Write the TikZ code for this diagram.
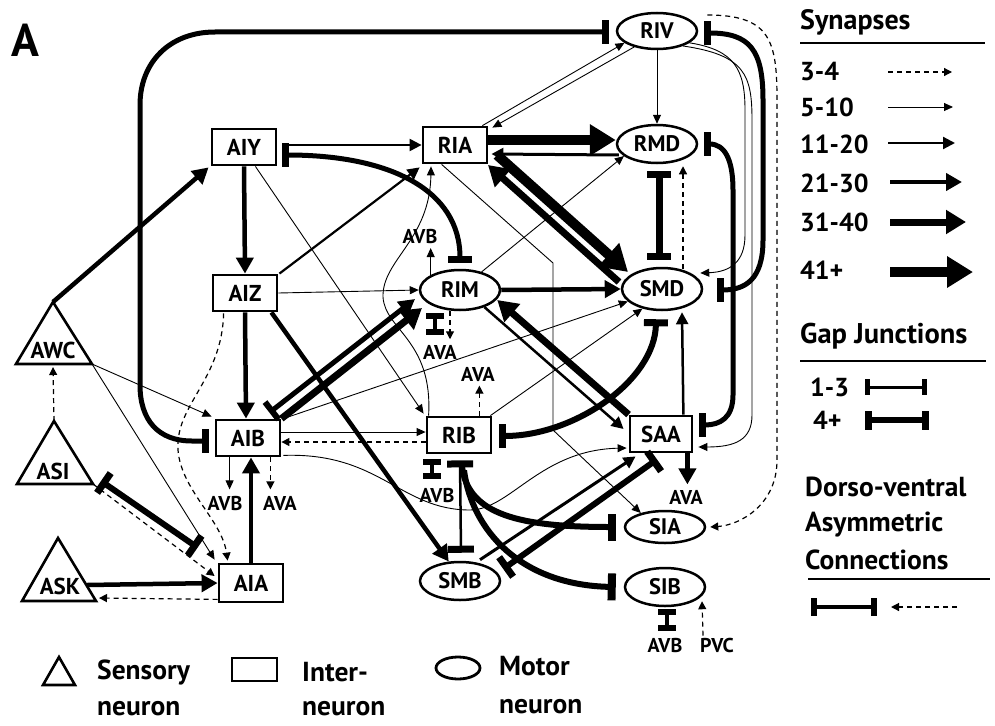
\documentclass[tikz,border=0pt]{standalone}
\usepackage{fontspec}
\setmainfont{PT Sans}
\usetikzlibrary{arrows.meta,shapes.geometric,calc}
\tikzset{
 inter/.style={draw, rectangle, line width=2.8pt, minimum width=64pt, minimum height=36pt, inner sep=0pt, fill=white, font=\bfseries\fontsize{23}{23}\selectfont},
 motor/.style={draw, ellipse, line width=2.5pt, minimum width=80pt, minimum height=38pt, inner sep=0pt, fill=white, font=\bfseries\fontsize{22.5}{22.5}\selectfont},
 sens/.style={draw, line width=2.6pt},
 tri/.style={inner sep=0pt, font=\bfseries\fontsize{23}{23}\selectfont},
 lbl/.style={inner sep=0pt, font=\bfseries\fontsize{20}{20}\selectfont},
 leg/.style={inner sep=0pt, anchor=west, font=\bfseries\fontsize{27.5}{27.5}\selectfont},
 legb/.style={inner sep=0pt, anchor=base west, text depth=0pt, font=\bfseries\fontsize{27.5}{27.5}\selectfont},
 s34/.style={line width=1.2pt, dash pattern=on 5pt off 4pt, -{Triangle[length=8pt,width=8pt]}},
 s510/.style={line width=0.9pt, -{Triangle[length=9pt,width=8pt]}},
 s1120/.style={line width=2.2pt, -{Triangle[length=12pt,width=12pt]}},
 s2130/.style={line width=4.5pt, -{Triangle[length=16pt,width=17pt]}},
 s3140/.style={line width=7pt, -{Triangle[length=20pt,width=23pt]}},
 s41/.style={line width=10pt, -{Triangle[length=26pt,width=30pt]}},
 gapsmall/.style={line width=4pt, {Rectangle[length=6pt,width=18pt]}-{Rectangle[length=6pt,width=18pt]}},
 gapthin/.style={line width=2.5pt, {Rectangle[length=7pt,width=26pt]}-{Rectangle[length=7pt,width=26pt]}},
 gapthick/.style={line width=6pt, {Rectangle[length=7pt,width=24pt]}-{Rectangle[length=7pt,width=24pt]}},
 gapend/.style={line width=6pt, -{Rectangle[length=8pt,width=27pt]}},
}
\begin{document}
\begin{tikzpicture}[x=1pt,y=-1pt]
\path[use as bounding box] (0,0) rectangle (995,725);

% ---------- nodes ----------
\node[inter] (AIY) at (244,147) {AIY};
\node[inter] (RIA) at (455,145) {RIA};
\node[inter] (AIZ) at (245,293) {AIZ};
\node[inter] (AIB) at (248,438) {AIB};
\node[inter,minimum height=38pt] (AIA) at (251,583) {AIA};
\node[inter] (RIB) at (459,435) {RIB};
\node[inter,minimum width=62pt] (SAA) at (661,434) {SAA};
\node[motor,minimum height=36pt] (RIV) at (657,31) {RIV};
\node[motor] (RMD) at (657,144) {RMD};
\node[motor,minimum height=40pt] (RIM) at (460,290) {RIM};
\node[motor,minimum height=42pt] (SMD) at (662,289) {SMD};
\node[motor,minimum height=32pt] (SIA) at (665,527) {SIA};
\node[motor] (SIB) at (665,587) {SIB};
\node[motor] (SMB) at (460,581) {SMB};

% sensory triangles
\coordinate (AWCtop) at (53,302); \coordinate (AWCleft) at (16,364); \coordinate (AWCright) at (92,364); \coordinate (AWCbase) at (53,367);
\coordinate (ASItop) at (54,421); \coordinate (ASIleft) at (17,484); \coordinate (ASIright) at (93,484);
\coordinate (ASKtop) at (58,538); \coordinate (ASKleft) at (22,601); \coordinate (ASKright) at (96,601);
\coordinate (ASKr1) at (87,585); \coordinate (ASKr2) at (99,598);
\draw[sens] (AWCtop) -- (AWCright) -- (AWCleft) -- cycle;
\draw[sens] (ASItop) -- (ASIright) -- (ASIleft) -- cycle;
\draw[sens] (ASKtop) -- (ASKright) -- (ASKleft) -- cycle;
\node[tri] (AWC) at (53,350) {AWC};
\node[tri] (ASI) at (53,471) {ASI};
\node[tri] (ASK) at (60,586) {ASK};

% small labels
\node[lbl] (AVB0) at (225,503) {AVB};
\node[lbl] (AVA0) at (280,503) {AVA};
\node[lbl] (AVB1) at (437,495) {AVB};
\node[lbl] (AVA2) at (478,374) {AVA};
\node[lbl] (AVB2) at (420,236) {AVB};
\node[lbl] (AVA1) at (440,352) {AVA};
\node[lbl] (AVA3) at (686,497) {AVA};
\node[lbl] (AVB3) at (665,645) {AVB};
\node[lbl] (PVC) at (717,645) {PVC};

% ---------- connectors ----------
% big loop AIB -- RIV
\draw[gapthick,line width=5pt] ($(AIB.west)+(-6,3)$) -- (192,441) .. controls (158,441) and (140,420) .. (140,385) -- (140,105) .. controls (140,62) and (170,32) .. (215,32) -- ($(RIV.west)+(-7,1)$);
\draw[s2130] (AWCtop) -- ($(AIY.south west)+(-2,1)$);
\draw[s1120] ($(AIY.east)+(6,-2)$) -- (RIA.west);
\draw[gapthick,line width=5pt] ($(AIY.east)+(5,8)$) .. controls (390,155) and (460,190) .. ($(RIM.north)+(0,-6)$);
\draw[s2130] (AIY.south) -- (AIZ.north);
\draw[s510] ($(AIY.south east)+(-22,0)$) -- ($(RIB.north west)+(-2,-2)$);
\draw[s1120] ($(AIZ.north east)+(1,0)$) -- ($(RIA.south west)+(-2,3)$);
\draw[s510] (AIZ.east) -- (RIM.west);
\draw[s2130] (AIZ.south) -- ($(AIB.north)+(-2,0)$);
\draw[s2130] ($(AIZ.south east)+(-7,0)$) -- (SMB.120);
\draw[s34] ($(AIZ.south west)+(12,1)$) .. controls (222,380) and (175,405) .. (178,450) .. controls (181,490) and (222,520) .. ($(AIA.north west)+(10,-2)$);
\draw[s34] (ASIright) -- ($(AIA.west)+(-3,-7)$);
\draw[gapthick,line width=6pt] ($(ASIright)+(8,-3)$) -- ($(AIA.north west)+(-20,-15)$);
\draw[s510] (AWCright) -- ($(AIA.north west)+(-3,-3)$);
\draw[s510] (AWCright) -- ($(AIB.north west)+(-3,-2)$);
\draw[s34] (ASItop) -- (AWCbase);
\draw[s2130] (ASKr1) -- (AIA.west);
\draw[s34] ($(AIA.south west)+(0,-4)$) -- (ASKr2);
\draw[s2130] (AIA.north) -- ($(AIB.south)+(3,0)$);
\draw[s510] ($(AIB.east)+(0,-6)$) -- ($(RIB.west)+(0,-3)$);
\draw[s34] ($(RIB.west)+(0,7)$) -- ($(AIB.east)+(0,4)$);
\draw[s510] ($(AIB.south east)+(2,-2)$) .. controls (380,452) and (400,510) .. (470,510) .. controls (510,510) and (540,450) .. ($(SAA.west)+(-2,14)$);
\draw[gapsmall] ($(RIB.south west)+(6,5)$) -- +(0,20);
\draw[gapthin] ($(RIB.south)+(1,6)$) -- ($(SMB.north)+(1,-8)$);
\draw[gapend] ($(RIB.south)+(3,12)$) .. controls (468,515) and (520,527) .. ($(SIA.west)+(-8,0)$);
\draw[gapend] ($(RIB.south)+(5,16)$) .. controls (472,530) and (520,585) .. ($(SIB.west)+(-8,0)$);
\draw[gapthick] ($(SMB.east)+(2,-12)$) -- ($(SAA.south)+(-4,6)$);
\draw[s1120,line width=3pt] ($(SMB.north)+(20,-1)$) -- ($(SAA.south west)+(7,3)$);
\draw[s2130] ($(SAA.south east)+(-6,0)$) -- +(0,31);
\draw[s34] ($(RIB.north east)+(-13,0)$) -- +(0,-30);
\draw[s510] (RIM.153) -- +(0,-27);
\draw[s510] ($(RIB.north west)+(3,0)$) .. controls (433,340) and (385,330) .. (383,297) .. controls (382,260) and (430,240) .. ($(RIA.south)+(-24,2)$);
\draw[gapsmall] ($(RIM.south)+(-25,2)$) -- +(0,22);
\draw[s34] ($(RIM.south)+(-10,0)$) -- +(0,28);
\draw[s2130] (RIM.east) -- (SMD.west);
\draw[s1120,line width=2.5pt] (RIM.-35) -- ($(SAA.west)+(-5,-5)$);
\draw[s3140] (SAA.north west) -- ($(RIM.east)+(-4,10)$);
\draw[s41] ($(RIA.center)+(42,10)$) -- ($(SMD.center)+(-34,-17)$);
\draw[s3140] ($(SMD.center)+(-43,-7)$) -- ($(RIA.center)+(33,20)$);
\draw[s41] ($(RIA.east)+(0,-5)$) -- ($(RMD.west)+(0,-4)$);
\draw[s1120,line width=3pt] ($(RMD.west)+(3,11)$) -- ($(RIA.east)+(3,9)$);
\draw[s510] ($(RIA.north east)+(-6,0)$) -- (RIV.200);
\draw[s510] (RIV.215) -- ($(RIA.north east)+(4,2)$);
\draw[s510] (RIV.south) -- (RMD.north);
\draw[gapthick,line width=5pt] ($(RIV.east)+(6,2)$) .. controls (750,33) and (763,50) .. (763,100) -- (763,240) .. controls (763,280) and (745,290) .. ($(SMD.east)+(14,1)$);
\draw[s510] (RIV.-20) .. controls (735,50) and (745,70) .. (745,110) -- (745,235) .. controls (745,262) and (730,272) .. ($(SMD.east)+(-3,-16)$);
\draw[s510] (RIV.-30) .. controls (745,55) and (752,75) .. (752,120) -- (752,415) .. controls (752,440) and (735,447) .. ($(SAA.east)+(5,13)$);
\draw[s34] ($(RIV.east)+(9,-16)$) .. controls (770,15) and (777,40) .. (777,100) -- (777,460) .. controls (777,505) and (740,525) .. ($(SIA.east)+(4,0)$);
\draw[gapthick,line width=7pt] ($(RMD.south)+(2,7)$) -- ($(SMD.north)+(-3,-7)$);
\draw[s34] ($(SMD.north)+(21,2)$) -- ($(RMD.south)+(26,2)$);
\draw[gapthick,line width=5pt] ($(RMD.east)+(6,0)$) .. controls (725,144) and (733,160) .. (733,190) -- (733,395) .. controls (733,418) and (720,425) .. ($(SAA.east)+(6,-9)$);
\draw[s1120,line width=2.5pt] ($(SAA.north east)+(-10,0)$) -- ($(SMD.south)+(20,1)$);
\draw[gapthick] ($(RIB.east)+(7,1)$) .. controls (575,436) and (655,380) .. ($(SMD.south)+(-6,8)$);
\draw[s510] ($(RIB.north east)+(-2,0)$) -- (SMD.-135);
\draw[s510] ($(AIB.north east)+(2,0)$) -- (SMD.-160);
\draw[{Rectangle[length=6pt,width=22pt]}-{Triangle[length=16pt,width=17pt]}, line width=5pt] ($(AIB.north east)+(-12,-6)$) -- ($(RIM.center)+(-45,9)$);
\draw[s3140] (AIB.north east) -- ($(RIM.center)+(-38,18)$);
\draw[s510] ($(RIA.south west)+(20,0)$) -- (553,263) -- (553,430) -- (SIA.150);
\draw[s510] (RIM.40) -- (RMD.-160);
\draw[s34] ($(PVC.north)+(-14,-2)$) -- ($(SIB.south)+(37,-6)$);
\draw[gapsmall] ($(SIB.south)+(2,2)$) -- +(0,22);
\draw[s510] ($(AIB.south west)+(15,0)$) -- +(0,32);
\draw[s34] ($(AIB.south east)+(-11,0)$) -- +(0,32);

% ---------- panel letter ----------
\node[inner sep=0pt, font=\bfseries\fontsize{46}{46}\selectfont] (PA) at (25,40) {A};

% ---------- legend right ----------
\node[leg,font=\bfseries\fontsize{28}{28}\selectfont] (Lsyn) at (800,22) {Synapses};
\draw[line width=2.5pt] (800,43) -- (985,43);
\node[leg,font=\bfseries\fontsize{26}{26}\selectfont] (L1) at (800,72) {3-4};
\node[leg,font=\bfseries\fontsize{26}{26}\selectfont] (L2) at (800,107) {5-10};
\node[leg,font=\bfseries\fontsize{26}{26}\selectfont] (L3) at (800,144) {11-20};
\node[leg,font=\bfseries\fontsize{26}{26}\selectfont] (L4) at (800,183) {21-30};
\node[leg,font=\bfseries\fontsize{26}{26}\selectfont] (L5) at (800,222) {31-40};
\node[leg,font=\bfseries\fontsize{26}{26}\selectfont] (L6) at (800,270) {41+};
\draw[s34] (888,72) -- (952,72);
\draw[s510] (888,107) -- (953,107);
\draw[s1120] (888,143) -- (955,143);
\draw[s2130] (890,182) -- (962,182);
\draw[s3140] (890,222) -- (966,222);
\draw[s41] (890,272) -- (973,272);
\node[leg,font=\bfseries\fontsize{28.5}{28.5}\selectfont] (Lgap) at (800,336) {Gap Junctions};
\draw[line width=2.5pt] (800,361) -- (986,361);
\node[leg,font=\bfseries\fontsize{26}{26}\selectfont] (G1) at (810,387) {1-3};
\node[leg,font=\bfseries\fontsize{26}{26}\selectfont] (G2) at (813,420) {4+};
\draw[line width=3pt, {Rectangle[length=5pt,width=16pt]}-{Rectangle[length=5pt,width=16pt]}] (865,387) -- (927,387);
\draw[line width=6pt, {Rectangle[length=7pt,width=19pt]}-{Rectangle[length=7pt,width=19pt]}] (865,420) -- (929,420);
\node[leg] (D1) at (805,487) {Dorso-ventral};
\node[leg] (D2) at (805,525) {Asymmetric};
\node[leg] (D3) at (805,560) {Connections};
\draw[line width=2.5pt] (808,579) -- (990,579);
\draw[line width=4pt, {Rectangle[length=6pt,width=18pt]}-{Rectangle[length=6pt,width=18pt]}] (811,607) -- (877,607);
\draw[s34] (957,607) -- (891,607);

% ---------- legend bottom ----------
\draw[sens] (43,685) -- (75,685) -- (59,657) -- cycle;
\node[leg] (LS1) at (97,672) {Sensory};
\node[legb] (LS2) at (97,715) {neuron};
\draw[line width=2.8pt] (232,658) rectangle (277,681);
\node[leg] (LI1) at (302,672) {Inter-};
\node[legb] (LI2) at (302,715) {neuron};
\draw[line width=2.8pt] (458,668) ellipse [x radius=22pt, y radius=11pt];
\node[leg] (LM1) at (499,666) {Motor};
\node[legb] (LM2) at (499,713) {neuron};
\end{tikzpicture}
\end{document}
